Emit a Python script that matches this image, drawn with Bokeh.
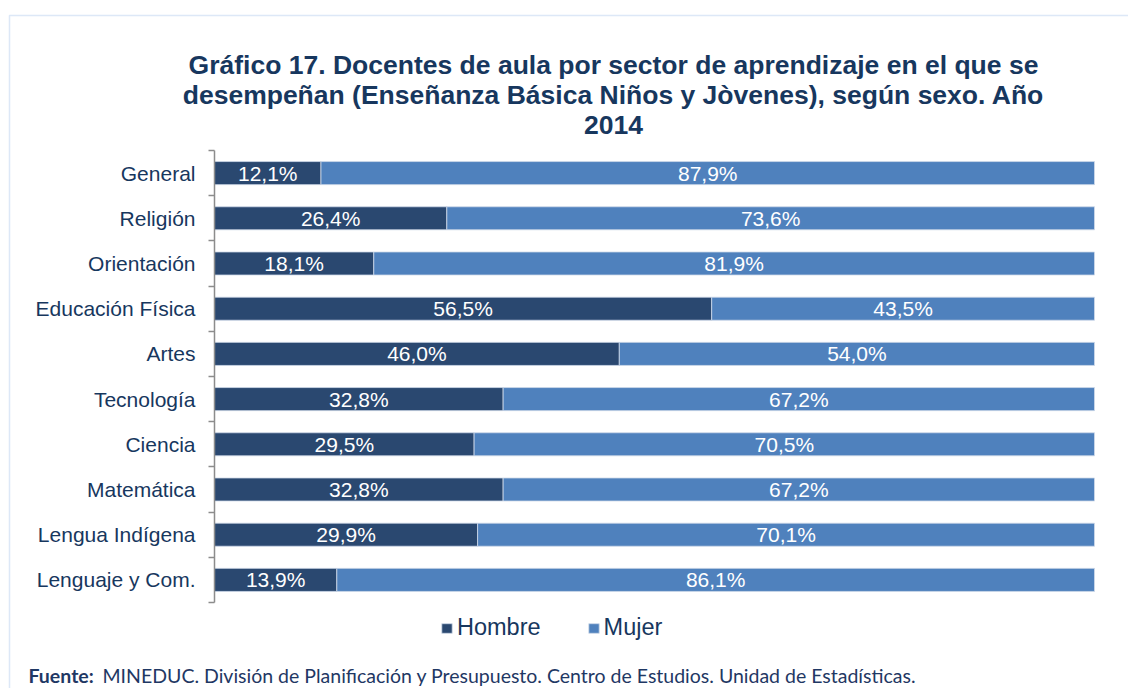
from bokeh.plotting import figure
from bokeh.models import (ColumnDataSource, Range1d, FixedTicker, Label, BoxAnnotation,
                          Legend, LegendItem)
from bokeh.embed import file_html
from bokeh.resources import INLINE
from bokeh.core.properties import value

# ---- data ----
categories = ["General", "Religión", "Orientación", "Educación Física", "Artes",
              "Tecnología", "Ciencia", "Matemática", "Lengua Indígena", "Lenguaje y Com."]
hombre = [12.1, 26.4, 18.1, 56.5, 46.0, 32.8, 29.5, 32.8, 29.9, 13.9]
mujer = [87.9, 73.6, 81.9, 43.5, 54.0, 67.2, 70.5, 67.2, 70.1, 86.1]
series_names = ["Hombre", "Mujer"]
title_lines = ["Gráfico 17. Docentes de aula por sector de aprendizaje en el que se",
               "desempeñan (Enseñanza Básica Niños y Jòvenes), según sexo. Año",
               "2014"]
source_bold = "Fuente:"
source_text = "MINEDUC. División de Planificación y Presupuesto. Centro de Estudios. Unidad de Estadísticas."

C_H = "#2A4870"
C_M = "#4F81BD"
TXT = "#17375E"
FONT = "Liberation Sans"

n = len(categories)
ypos = [n - 1 - i + 0.5 for i in range(n)]
fmt = lambda v: f"{v:.1f}%".replace(".", ",")

src = ColumnDataSource(dict(
    y=ypos,
    h_left=[0] * n,
    h_right=hombre,
    m_left=hombre,
    m_right=[a + b for a, b in zip(hombre, mujer)],
    h_mid=[a / 2 for a in hombre],
    m_mid=[a + b / 2 for a, b in zip(hombre, mujer)],
    h_lab=[fmt(v) for v in hombre],
    m_lab=[fmt(v) for v in mujer],
))

W, H = 1128, 688
BL, BR, BT, BB = 214, 1094, 150, 602   # bar area edges in page pixels
# page pixel -> data helpers (frame covers the whole canvas)
px = lambda X: (X - BL) * 100.0 / (BR - BL)
py = lambda Y: (BB - Y) * n / (BB - BT)

p = figure(width=W, height=H, output_backend="svg", toolbar_location=None,
           x_range=Range1d(px(0), px(W)), y_range=Range1d(py(H), py(0)),
           min_border_left=0, min_border_right=0, min_border_top=0, min_border_bottom=0)
p.title.visible = False
p.xaxis.visible = False
p.xgrid.visible = False
p.ygrid.visible = False
p.outline_line_color = None
p.background_fill_color = "white"
p.border_fill_color = "white"

r_h = p.hbar(y="y", left="h_left", right="h_right", height=0.51, source=src,
             fill_color=C_H, line_color="#D0DBEA", line_width=0.8)
r_m = p.hbar(y="y", left="m_left", right="m_right", height=0.51, source=src,
             fill_color=C_M, line_color="#D0DBEA", line_width=0.8)

for xcol, tcol in (("h_mid", "h_lab"), ("m_mid", "m_lab")):
    p.text(x=xcol, y="y", text=tcol, source=src, text_align="center", text_baseline="middle",
           text_color="white", text_font=value(FONT), text_font_size="21px")

ax = p.yaxis[0]
ax.fixed_location = 0
ax.bounds = (0, n)
ax.ticker = FixedTicker(ticks=ypos, minor_ticks=list(range(n + 1)))
ax.major_label_overrides = {float(y): c for y, c in zip(ypos, categories)}
ax.major_tick_line_color = None
ax.major_tick_in = 0
ax.major_tick_out = 0
ax.minor_tick_in = 0
ax.minor_tick_out = 6
ax.minor_tick_line_color = "#8C8C8C"
ax.minor_tick_line_width = 1.5
ax.axis_line_color = "#8C8C8C"
ax.axis_line_width = 1.5
ax.major_label_standoff = 13
ax.major_label_text_font = FONT
ax.major_label_text_font_size = "21px"
ax.major_label_text_color = TXT

# border of the chart box
p.add_layout(BoxAnnotation(left=px(9), right=px(1300), top=py(15), bottom=py(900),
                           fill_color=None, line_color="#8EB4E3", line_width=1.5))

# title
for i, t in enumerate(title_lines):
    p.add_layout(Label(x=px(613), y=py(64 + 30 * i), text=t,
                       text_align="center", text_baseline="middle",
                       text_font=FONT, text_font_style="bold", text_font_size="26.5px",
                       text_color=TXT))

# legend
legend = Legend(items=[LegendItem(label=series_names[0], renderers=[r_h]),
                       LegendItem(label=series_names[1], renderers=[r_m])],
                orientation="horizontal", location=(440, 47),
                padding=0, margin=0, spacing=46, label_standoff=4,
                glyph_width=13, glyph_height=12,
                label_text_font=FONT, label_text_font_size="23.5px", label_text_color=TXT,
                border_line_color=None, background_fill_alpha=0)
p.add_layout(legend, "center")

# footer
p.add_layout(Label(x=px(28), y=py(675), text=source_bold,
                   text_baseline="middle", text_font="Lato", text_font_style="bold",
                   text_font_size="19.5px", text_color="#1F3864"))
p.add_layout(Label(x=px(102), y=py(675), text=source_text,
                   text_baseline="middle", text_font="Lato",
                   text_font_size="19.5px", text_color="#1F3864"))

open("out.html", "w").write(file_html(p, INLINE))
